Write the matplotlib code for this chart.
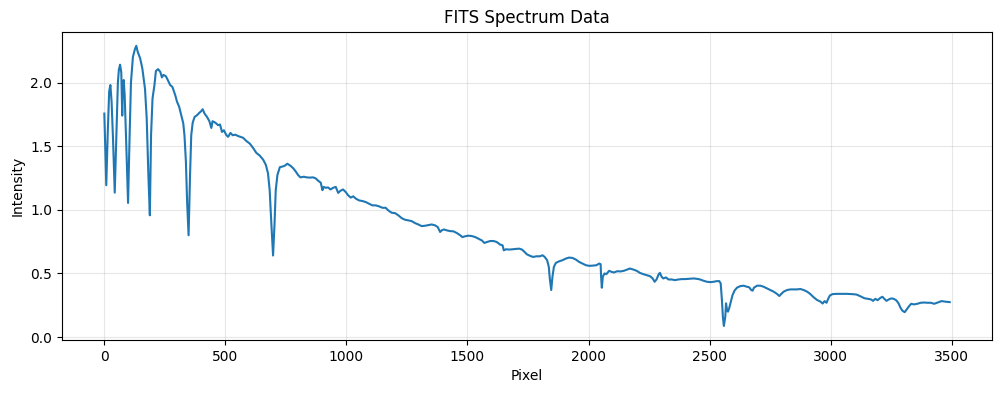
import matplotlib.pyplot as plt

# values (pixel, intensity)
pixel = [
    0, 8, 14, 20, 25, 30, 36, 43, 50, 56, 60, 65, 70, 74, 77, 80, 84, 90, 98,
    104, 110, 118, 126, 132, 138, 148, 157, 168, 175, 182, 188, 193, 199, 207,
    213, 222, 231, 238, 244, 254, 262, 272, 281, 293, 300, 309, 318, 326, 331,
    337, 342, 348, 354, 359, 365, 373, 383, 392, 400, 406, 414, 424, 434, 442,
    447, 458, 470, 478, 486, 494, 503, 511, 521, 530, 541, 552, 562, 573,
    587, 601, 614, 628, 642, 656, 667, 676, 683, 690, 697, 703, 708, 715, 725,
    736, 745, 756, 769, 780, 791, 800, 810, 824, 835, 849, 862, 873, 883, 894,
    901, 906, 915, 924, 934, 945, 956, 966, 975, 986, 997, 1007, 1018, 1028,
    1039, 1052, 1066, 1080, 1094, 1107, 1121, 1135, 1149, 1162,
    1173, 1187, 1201, 1215, 1228, 1242, 1256, 1270, 1283, 1297, 1311, 1325,
    1339, 1352, 1366, 1377, 1387, 1394, 1403, 1414, 1428, 1442, 1456, 1470,
    1479, 1490, 1504, 1518, 1532, 1546, 1559, 1570, 1580, 1594, 1608, 1621,
    1635, 1645, 1650, 1659, 1672, 1686, 1700, 1714, 1725, 1736, 1745, 1759,
    1771, 1785, 1799, 1810, 1819, 1829, 1836, 1840, 1846, 1851, 1857, 1865,
    1879, 1892, 1906, 1920, 1934, 1948, 1961, 1975, 1989, 2003, 2019, 2033,
    2044, 2050, 2052, 2055, 2059, 2066, 2074, 2085, 2095, 2105, 2119, 2132,
    2146, 2160, 2171, 2185, 2199, 2212, 2226, 2240, 2254, 2265, 2273, 2281,
    2290, 2295, 2302, 2309, 2320, 2330, 2343, 2357,
    2372, 2386, 2399, 2413, 2434, 2448, 2461, 2475, 2489, 2503, 2517, 2530,
    2540, 2546, 2551, 2555, 2559, 2565, 2568, 2572, 2576, 2581, 2588, 2595,
    2603, 2613, 2627, 2641, 2654, 2664, 2672, 2678, 2683, 2696, 2710, 2723,
    2737, 2751, 2765, 2779, 2788, 2796, 2806, 2820, 2834, 2848, 2861, 2875,
    2889, 2903, 2916, 2930, 2944, 2958, 2967, 2975, 2983, 2990, 2997,
    3008, 3025, 3046, 3067, 3088, 3106, 3122, 3139, 3153, 3167, 3175, 3185,
    3194, 3206, 3214, 3222, 3231, 3240, 3250, 3261, 3272, 3281, 3289, 3296,
    3306, 3314, 3324, 3333, 3344, 3358, 3372, 3386, 3400, 3414, 3428, 3439,
    3449, 3458, 3469, 3481, 3492,
]
intensity = [
    1.756, 1.193, 1.60, 1.93, 1.98, 1.85, 1.55, 1.135, 1.60, 2.00, 2.10, 2.14,
    2.08, 1.74, 2.00, 2.02, 1.90, 1.55, 1.054,
    1.55, 2.00, 2.20, 2.26, 2.288, 2.24, 2.19, 2.11, 1.95, 1.72, 1.27, 0.957,
    1.586, 1.874, 1.98, 2.09, 2.105, 2.084, 2.04, 2.06, 2.05, 2.02, 1.98,
    1.966, 1.90, 1.85, 1.81, 1.74, 1.68, 1.586, 1.376, 1.06, 0.80, 1.27,
    1.586, 1.685, 1.73, 1.743, 1.761, 1.775, 1.79, 1.756, 1.73, 1.696, 1.643,
    1.696, 1.685, 1.665, 1.67, 1.612, 1.625, 1.59, 1.573, 1.604, 1.586, 1.59,
    1.58, 1.573, 1.566,
    1.54, 1.52, 1.487, 1.447, 1.426, 1.394, 1.354, 1.287, 1.154, 0.888, 0.641,
    0.888, 1.154, 1.274, 1.335, 1.34, 1.346, 1.362, 1.346, 1.327, 1.30, 1.274,
    1.255, 1.26, 1.255, 1.253, 1.255, 1.247, 1.229, 1.213, 1.154, 1.18, 1.173,
    1.176, 1.16, 1.173, 1.18, 1.133, 1.149, 1.16, 1.14, 1.114, 1.096, 1.106,
    1.088, 1.074, 1.069, 1.061, 1.048, 1.035, 1.035, 1.027, 1.016, 1.016,
    0.995, 0.977, 0.974, 0.956, 0.935, 0.922, 0.917, 0.911, 0.896, 0.885,
    0.872, 0.875, 0.88, 0.885, 0.878, 0.865, 0.826, 0.839, 0.846, 0.839,
    0.833, 0.831, 0.818, 0.80, 0.786, 0.792, 0.797, 0.794, 0.786, 0.773,
    0.76, 0.74, 0.747, 0.755, 0.755, 0.747, 0.727, 0.721, 0.682, 0.69, 0.688,
    0.69, 0.693, 0.695, 0.688, 0.669, 0.651, 0.638,
    0.630, 0.635, 0.635, 0.643, 0.63, 0.604, 0.552, 0.461, 0.37, 0.474, 0.552,
    0.583, 0.596, 0.604, 0.617, 0.625, 0.622, 0.609, 0.591, 0.578, 0.565,
    0.56, 0.562, 0.565, 0.578, 0.573, 0.474, 0.388, 0.474, 0.50, 0.495, 0.521,
    0.513, 0.508, 0.518, 0.516, 0.521, 0.531, 0.539, 0.531, 0.521, 0.505,
    0.495, 0.487, 0.479, 0.461, 0.435, 0.453, 0.495, 0.505, 0.474, 0.461,
    0.469, 0.453, 0.453, 0.448,
    0.453, 0.456, 0.456, 0.458, 0.461, 0.458, 0.453, 0.443, 0.435, 0.432,
    0.435, 0.44, 0.44, 0.422, 0.292, 0.161, 0.088, 0.161, 0.266, 0.214, 0.20,
    0.227, 0.279, 0.331, 0.365, 0.388, 0.401, 0.404, 0.396, 0.391, 0.37,
    0.365, 0.388, 0.404, 0.404, 0.396, 0.383, 0.37, 0.357, 0.339, 0.323,
    0.339, 0.357, 0.37, 0.375, 0.375, 0.375, 0.378, 0.37, 0.357, 0.339, 0.313,
    0.292, 0.279, 0.264, 0.283, 0.27, 0.301, 0.327,
    0.338, 0.34, 0.34, 0.34, 0.338, 0.335, 0.322, 0.306, 0.301, 0.296, 0.285,
    0.301, 0.29, 0.309, 0.317, 0.301, 0.285, 0.296, 0.304, 0.301, 0.288,
    0.264, 0.23, 0.209, 0.196, 0.217, 0.243, 0.262, 0.257, 0.262, 0.27, 0.272,
    0.27, 0.27, 0.262, 0.27, 0.277, 0.283, 0.28, 0.277, 0.275,
]


def plot_spectrum(path_plot):
    fig, ax = plt.subplots(figsize=(10.01, 3.93), dpi=100)
    ax.plot(pixel, intensity, color='#1f77b4', linewidth=1.5)
    ax.set_title("FITS Spectrum Data")
    ax.set_xlabel("Pixel")
    ax.set_ylabel("Intensity")
    ax.grid(True, alpha=0.3)
    fig.subplots_adjust(left=0.062, right=0.991, top=0.919, bottom=0.135)
    fig.savefig(path_plot, dpi=100)
    plt.close(fig)


if __name__ == "__main__":
    plot_spectrum("out.png")
